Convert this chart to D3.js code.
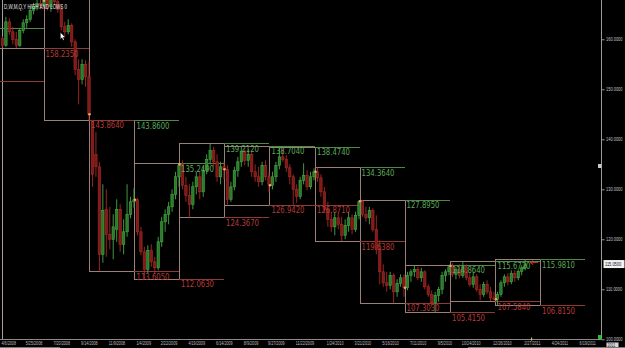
<!DOCTYPE html>
<html>
<head>
<meta charset="utf-8">
<script src="https://cdn.jsdelivr.net/npm/d3@7"></script>
<style>
  html, body { margin: 0; padding: 0; background: #000; }
  svg { display: block; }
</style>
</head>
<body>
<svg id="chart" width="625" height="348"></svg>
<script>
// Weekly bars, week dated on Sunday, first bar = week of 4/6/2008
const firstWeek = '2008-04-06';
const opens = [
  160.2, 158.8, 163.5, 161.5, 160.0, 158.8, 161.8, 163.3, 164.0, 165.8, 166.6, 167.2, 166.8,
  167.8, 166.5, 169.0, 167.5, 166.0, 162.5, 161.5, 162.8, 159.5, 154.0, 152.0, 155.0, 152.5,
  143.8, 137.0, 134.5, 117.0, 126.0, 121.0, 120.0, 122.0, 126.0, 119.0, 121.5, 125.0, 127.5,
  127.9, 121.5, 117.5, 114.0, 117.8, 115.5, 114.3, 119.5, 123.5, 125.0, 126.5, 129.0, 132.5,
  135.0, 130.8, 128.8, 127.0, 130.5, 132.5, 129.5, 133.8, 136.0, 137.8, 135.5, 132.5, 134.5,
  134.0, 128.0, 130.5, 133.8, 135.5, 137.5, 135.8, 137.0, 133.5, 132.5, 131.5, 134.8, 132.5,
  130.8, 132.5, 134.8, 136.5, 136.0, 134.3, 132.5, 130.0, 128.6, 131.8, 132.8, 130.5, 132.5,
  133.5, 132.3, 129.5, 126.0, 124.0, 122.5, 124.3, 123.0, 120.8, 122.8, 124.3, 122.0, 124.8,
  127.6, 125.0, 124.3, 125.8, 122.0, 118.0, 113.5, 111.3, 110.8, 112.8, 109.5, 111.2, 112.3,
  110.3, 112.8, 113.5, 114.0, 112.3, 113.5, 110.5, 109.0, 107.3, 108.8, 110.0, 112.8, 113.5,
  114.7, 113.0, 114.0, 112.8, 114.5, 112.3, 111.0, 112.5, 110.0, 109.0, 111.0, 109.5, 108.3,
  108.0, 109.0, 111.3, 112.5, 111.5, 113.2, 112.3, 113.6, 114.3
];
const highs = [
  160.6, 164.5, 164.2, 162.5, 161.5, 162.2, 164.0, 164.8, 166.5, 167.3, 168.2, 168.5, 168.4,
  169.0, 169.96, 169.8, 168.3, 166.8, 163.5, 164.0, 163.2, 160.0, 156.0, 156.0, 155.8, 155.5,
  143.86, 141.5, 135.5, 131.0, 130.0, 126.5, 125.0, 128.0, 127.0, 124.0, 131.0, 128.5, 130.2,
  128.3, 122.5, 118.5, 118.8, 119.0, 116.5, 120.5, 124.5, 126.0, 127.5, 130.0, 133.5, 135.249,
  135.8, 132.5, 131.0, 131.5, 133.5, 133.5, 134.5, 137.0, 139.212, 138.5, 137.0, 135.5, 135.5,
  134.8, 131.5, 134.5, 136.5, 138.704, 138.0, 138.0, 137.5, 135.0, 134.5, 135.5, 135.8, 133.5,
  133.5, 135.5, 138.474, 138.3, 136.8, 135.0, 133.0, 131.0, 132.5, 135.2, 133.8, 133.5, 134.2,
  134.364, 133.0, 130.5, 127.5, 125.5, 125.5, 125.5, 124.5, 124.0, 125.5, 125.0, 125.5, 127.8,
  127.895, 126.5, 126.5, 126.2, 124.8, 119.8, 115.0, 113.5, 113.5, 113.2, 112.0, 113.0, 113.0,
  113.5, 114.0, 114.864, 114.5, 114.3, 113.8, 111.0, 109.8, 109.5, 110.5, 113.5, 114.0, 114.8,
  115.2, 114.5, 115.0, 115.672, 115.0, 113.2, 113.5, 113.0, 111.0, 111.5, 111.8, 110.5, 109.5,
  109.5, 111.8, 113.0, 113.2, 113.8, 113.8, 114.0, 114.8, 115.981
];
const lows = [
  158.3, 158.5, 160.9, 159.0, 158.235, 158.5, 161.2, 162.3, 163.5, 165.0, 165.8, 166.0, 166.5,
  165.8, 165.5, 166.8, 165.3, 161.8, 160.5, 161.0, 158.5, 152.8, 147.0, 151.0, 150.5, 143.864,
  130.5, 132.5, 113.605, 115.3, 116.5, 118.0, 116.0, 119.5, 117.5, 117.0, 120.5, 124.2, 126.3,
  120.8, 116.8, 112.063, 113.2, 114.5, 113.0, 113.8, 118.5, 121.5, 123.0, 125.5, 128.0, 130.5,
  130.0, 127.5, 124.367, 126.0, 129.0, 128.0, 128.5, 133.0, 135.0, 134.5, 131.5, 131.0, 132.0,
  126.942, 127.5, 129.8, 132.5, 134.5, 134.8, 134.5, 132.5, 131.5, 130.5, 130.8, 131.8, 129.5,
  130.0, 131.5, 134.0, 135.5, 133.5, 131.0, 126.871, 127.3, 128.0, 131.0, 129.8, 130.0, 131.8,
  131.5, 128.5, 125.5, 122.5, 121.5, 120.8, 122.0, 119.638, 120.0, 121.5, 121.0, 121.5, 124.0,
  124.5, 123.5, 123.0, 121.5, 117.0, 111.0, 110.5, 109.5, 110.0, 107.303, 108.5, 110.5, 108.5,
  109.8, 111.5, 112.5, 111.8, 111.5, 110.0, 108.5, 106.5, 105.415, 107.5, 109.0, 111.5, 112.8,
  112.5, 112.0, 112.2, 112.3, 111.8, 110.5, 110.3, 109.5, 107.8, 108.5, 109.0, 107.584, 107.8,
  106.815, 108.5, 110.5, 110.8, 111.0, 111.5, 111.8, 112.8, 113.8
];
const closes = [
  158.8, 163.5, 161.5, 160.0, 158.8, 161.8, 163.3, 164.0, 165.8, 166.6, 167.2, 166.8, 167.8,
  166.5, 169.0, 167.5, 166.0, 162.5, 161.5, 162.8, 159.5, 154.0, 152.0, 155.0, 152.5, 145.0,
  133.0, 134.5, 117.0, 125.8, 121.0, 120.0, 122.5, 126.0, 119.0, 121.5, 125.0, 127.5, 127.9,
  121.5, 117.5, 114.0, 117.8, 115.5, 114.3, 119.5, 123.5, 125.0, 126.5, 129.0, 132.5, 134.8,
  130.8, 128.8, 127.0, 130.5, 132.5, 129.5, 133.8, 136.0, 137.8, 135.5, 132.5, 134.5, 134.0,
  128.0, 130.5, 133.8, 135.5, 137.5, 135.8, 137.0, 133.5, 132.5, 131.5, 134.8, 132.5, 131.0,
  132.5, 134.8, 136.5, 136.0, 134.3, 132.5, 130.0, 128.6, 131.8, 132.8, 130.5, 132.5, 133.5,
  132.3, 129.5, 126.0, 124.0, 122.5, 124.3, 123.0, 120.8, 122.8, 124.3, 122.0, 124.8, 127.5,
  125.0, 124.3, 125.8, 122.0, 118.0, 113.5, 111.3, 110.8, 112.8, 109.5, 111.2, 112.3, 110.3,
  112.8, 113.5, 114.0, 112.3, 113.5, 110.5, 109.0, 107.3, 108.8, 110.0, 112.8, 113.5, 114.5,
  113.0, 114.0, 112.8, 114.5, 112.3, 111.0, 112.5, 110.0, 109.0, 111.0, 109.5, 108.3, 108.0,
  109.0, 111.3, 112.5, 111.5, 113.2, 112.3, 113.6, 114.3, 115.05
];

// Quarterly highs / lows (box = quarter, lines carry them over the next quarter)
const quarterStarts = [
  '2008-01-01', '2008-04-01', '2008-07-01', '2008-10-01', '2009-01-01', '2009-04-01', '2009-07-01',
  '2009-10-01', '2010-01-01', '2010-04-01', '2010-07-01', '2010-10-01', '2011-01-01'
];
const quarterHighs = [162.26, 168.5, 169.96, 143.86, 135.249, 139.212, 138.704, 138.474, 134.364, 127.895, 114.864, 115.672, 115.981];
const quarterLows = [151.76, 158.235, 143.864, 113.605, 112.063, 124.367, 126.942, 126.871, 119.638, 107.303, 105.415, 107.584, 106.815];
const quarterOpens = [null, null, 167.7, 145.0, 127.9, 135.0, 134.0, 130.8, 133.5, 127.6, 110.3, 114.7, 108.0];

const dateTicks = [
  '2008-04-06', '2008-05-25', '2008-07-20', '2008-09-14', '2008-11-09', '2009-01-04', '2009-02-22',
  '2009-04-19', '2009-06-14', '2009-08-09', '2009-09-27', '2009-11-22', '2010-01-24', '2010-03-21',
  '2010-05-16', '2010-07-11', '2010-09-05', '2010-10-24', '2010-12-26', '2011-02-27', '2011-04-24',
  '2011-06-19'
];
const priceTicks = [100, 110, 120, 130, 140, 150, 160];
const titleText = 'D,W,M,Q,Y HIGH AND LOWS 0';

// Setup
const parse = d3.timeParse('%Y-%m-%d');
const fmtDate = d3.timeFormat('%-m/%-d/%Y');
const fmtPrice = d3.format('.4f');

const width = 625, height = 348;
const plotRight = 601, plotBottom = 339.5;

const svg = d3.select('#chart');
svg.append('rect').attr('width', width).attr('height', height).attr('fill', '#000');

const x = d3.scaleTime()
  .domain([parse('2008-04-01'), parse('2011-04-01')])
  .range([-1.5, 540]);

const y = d3.scaleLinear()
  .domain([100, 160])
  .range([339.3, 39.3]);

svg.append('clipPath').attr('id', 'plot-clip')
  .append('rect').attr('x', 0).attr('y', 0).attr('width', plotRight).attr('height', plotBottom);

const plot = svg.append('g').attr('clip-path', 'url(#plot-clip)');

// Left border
plot.append('line')
  .attr('x1', 2.5).attr('x2', 2.5).attr('y1', 0).attr('y2', plotBottom)
  .attr('stroke', '#a99d9b').attr('stroke-width', 1);

// Quarter boxes
const quarters = quarterStarts.map((s, i) => {
  const start = parse(s);
  const end = d3.timeMonth.offset(start, 3);
  return {
    start, end,
    next: d3.timeMonth.offset(end, 3),
    high: quarterHighs[i],
    low: quarterLows[i],
    open: quarterOpens[i],
    idx: i
  };
});

plot.selectAll('rect.qbox')
  .data(quarters)
  .join('rect')
  .attr('class', 'qbox')
  .attr('x', d => Math.round(x(d.start)) + 0.5)
  .attr('y', d => Math.round(y(d.high)) + 0.5)
  .attr('width', d => Math.round(x(d.end)) - Math.round(x(d.start)))
  .attr('height', d => Math.round(y(d.low)) - Math.round(y(d.high)))
  .attr('fill', 'none')
  .attr('stroke', '#9c7f78')
  .attr('stroke-width', 1);

// Carried-over highs (green) and lows (red)
plot.selectAll('line.qhigh')
  .data(quarters)
  .join('line')
  .attr('class', 'qhigh')
  .attr('x1', d => Math.round(x(d.end))).attr('x2', d => Math.round(x(d.next)))
  .attr('y1', d => Math.round(y(d.high)) + 0.5).attr('y2', d => Math.round(y(d.high)) + 0.5)
  .attr('stroke', '#4f8a45').attr('stroke-width', 1);

plot.selectAll('line.qlow')
  .data(quarters)
  .join('line')
  .attr('class', 'qlow')
  .attr('x1', d => Math.round(x(d.end))).attr('x2', d => Math.round(x(d.next)))
  .attr('y1', d => Math.round(y(d.low)) + 0.5).attr('y2', d => Math.round(y(d.low)) + 0.5)
  .attr('stroke', '#8e3a36').attr('stroke-width', 1);

// Candles
const bars = opens.map((o, i) => ({
  date: d3.timeDay.offset(parse(firstWeek), i * 7 + 3),
  open: o, high: highs[i], low: lows[i], close: closes[i]
}));

const upStroke = '#46a846', upFill = '#2a7a2a';
const dnStroke = '#a82a26', dnFill = '#7e1a18';

const candle = plot.selectAll('g.candle')
  .data(bars)
  .join('g')
  .attr('class', 'candle');

candle.append('line')
  .attr('x1', d => x(d.date)).attr('x2', d => x(d.date))
  .attr('y1', d => y(d.high)).attr('y2', d => y(d.low))
  .attr('stroke', d => d.close >= d.open ? upStroke : dnStroke)
  .attr('stroke-width', 0.9);

candle.append('rect')
  .attr('x', d => x(d.date) - 1.2)
  .attr('width', 2.4)
  .attr('y', d => y(Math.max(d.open, d.close)))
  .attr('height', d => Math.max(0.8, Math.abs(y(d.open) - y(d.close))))
  .attr('fill', d => d.close >= d.open ? upFill : dnFill)
  .attr('stroke', d => d.close >= d.open ? upStroke : dnStroke)
  .attr('stroke-width', 0.6);

// Quarter open marks
plot.selectAll('circle.qopen')
  .data(quarters.filter(d => d.open != null))
  .join('circle')
  .attr('class', 'qopen')
  .attr('cx', d => x(d.start) + 0.5)
  .attr('cy', d => y(d.open))
  .attr('r', 1.3)
  .attr('fill', '#f2a65a');

// Labels for the carried-over levels (only those inside the visible price range)
const labelData = quarters.filter(d => d.idx > 0);
const labelFont = 'DejaVu Sans, sans-serif';

plot.selectAll('text.lhigh')
  .data(labelData.filter(d => y(d.high) > 2))
  .join('text')
  .attr('class', 'lhigh')
  .attr('x', d => x(d.end) + 2)
  .attr('y', d => y(d.high) + 8.5)
  .attr('font-family', labelFont)
  .attr('font-size', 8.5)
  .attr('textLength', 33)
  .attr('lengthAdjust', 'spacingAndGlyphs')
  .attr('fill', '#5da85a')
  .text(d => fmtPrice(d.high));

plot.selectAll('text.llow')
  .data(labelData.filter(d => y(d.low) > 2))
  .join('text')
  .attr('class', 'llow')
  .attr('x', d => x(d.end) + 2)
  .attr('y', d => y(d.low) + 8.5)
  .attr('font-family', labelFont)
  .attr('font-size', 8.5)
  .attr('textLength', 33)
  .attr('lengthAdjust', 'spacingAndGlyphs')
  .attr('fill', '#b83a36')
  .text(d => fmtPrice(d.low));

// Last price arrow
const last = bars[bars.length - 1];
plot.append('path')
  .attr('d', `M${x(last.date) + 5},${y(last.close) - 1.5} h8 M${x(last.date) + 5},${y(last.close) - 1.5} l3,-2 M${x(last.date) + 5},${y(last.close) - 1.5} l3,2`)
  .attr('stroke', '#c0302c').attr('stroke-width', 1).attr('fill', 'none');

// Title
svg.append('text')
  .attr('x', 4).attr('y', 8.5)
  .attr('font-family', 'Liberation Sans, sans-serif')
  .attr('font-size', 6.5)
  .attr('textLength', 63)
  .attr('lengthAdjust', 'spacingAndGlyphs')
  .attr('fill', '#e6e6e6')
  .text(titleText);

// Mouse pointer left in the screenshot
svg.append('path')
  .attr('d', 'M60.5,32.5 L60.5,39 L62,37.6 L63.2,40.2 L64.1,39.8 L63,37.3 L65,37.2 Z')
  .attr('fill', '#fff').attr('stroke', '#222').attr('stroke-width', 0.3);

// Right price axis (tiny squeezed labels)
const squeeze = 0.72;
const yAxis = d3.axisRight(y)
  .tickValues(priceTicks)
  .tickSize(3)
  .tickFormat(fmtPrice);

const gy = svg.append('g')
  .attr('transform', `translate(${plotRight + 0.5},0)`)
  .call(yAxis);
gy.select('.domain').remove();
gy.selectAll('.tick line').attr('stroke', '#9a9a9a');
gy.selectAll('.tick text')
  .attr('x', 4.5 / squeeze)
  .attr('dy', '0.3em')
  .attr('transform', `scale(${squeeze},1)`)
  .attr('font-family', 'Liberation Sans, sans-serif')
  .attr('font-size', 5.5)
  .attr('fill', '#c4c4c4');

svg.append('line')
  .attr('x1', plotRight + 0.5).attr('x2', plotRight + 0.5)
  .attr('y1', 0).attr('y2', plotBottom)
  .attr('stroke', '#9a9a9a');

// Current price tag
const tagY = y(last.close);
svg.append('rect')
  .attr('x', 603.5).attr('y', tagY - 4).attr('width', 21).attr('height', 8)
  .attr('fill', '#f2f2f2');
svg.append('text')
  .attr('transform', `translate(605,${tagY + 2}) scale(${squeeze},1)`)
  .attr('font-family', 'Liberation Sans, sans-serif')
  .attr('font-size', 5.5)
  .attr('fill', '#111')
  .text(fmtPrice(last.close));

// Small markers on the price axis
svg.append('rect')
  .attr('x', 598).attr('y', 164).attr('width', 3.5).attr('height', 4)
  .attr('fill', '#c8c8c8');
svg.append('rect')
  .attr('x', 598).attr('y', 335).attr('width', 3.5).attr('height', 4)
  .attr('fill', '#22c422');

// Bottom date axis
const xAxis = d3.axisBottom(x)
  .tickValues(dateTicks.map(parse))
  .tickSize(0)
  .tickFormat(fmtDate);

const gx = svg.append('g')
  .attr('transform', `translate(0,${plotBottom})`)
  .call(xAxis);
gx.select('.domain').remove();
gx.selectAll('.tick text')
  .attr('x', 0)
  .attr('y', 5.5)
  .attr('dy', 0)
  .attr('text-anchor', 'start')
  .attr('transform', 'scale(0.68,1)')
  .attr('font-family', 'Liberation Sans, sans-serif')
  .attr('font-size', 5.5)
  .attr('fill', '#bdbdbd');

svg.append('line')
  .attr('x1', 0).attr('x2', plotRight)
  .attr('y1', plotBottom).attr('y2', plotBottom)
  .attr('stroke', '#8a8a8a');

// last bar marker on the time axis
svg.append('line')
  .attr('x1', x(last.date) + 6.5).attr('x2', x(last.date) + 6.5)
  .attr('y1', plotBottom - 2).attr('y2', plotBottom + 1)
  .attr('stroke', '#e0e070').attr('stroke-width', 1);

// date box at the right end of the axis
svg.append('rect')
  .attr('x', 606.5).attr('y', 342.5).attr('width', 12).attr('height', 5)
  .attr('fill', '#d8d8d8');
svg.append('text')
  .attr('transform', 'translate(607.5,346.7) scale(0.75,1)')
  .attr('font-family', 'Liberation Sans, sans-serif')
  .attr('font-size', 4.8)
  .attr('fill', '#222')
  .text('2011');

// scrollbar edges
svg.append('line')
  .attr('x1', 0).attr('x2', 60).attr('y1', 347.5).attr('y2', 347.5)
  .attr('stroke', '#7a7a7a');
svg.append('line')
  .attr('x1', 468).attr('x2', width).attr('y1', 347.5).attr('y2', 347.5)
  .attr('stroke', '#7a7a7a');
</script>
</body>
</html>
